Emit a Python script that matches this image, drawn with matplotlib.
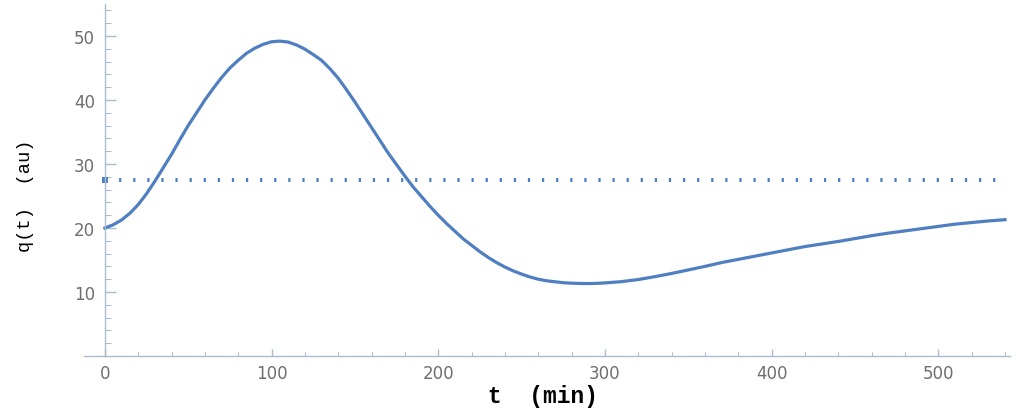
import matplotlib
matplotlib.use("Agg")
import matplotlib.pyplot as plt
from matplotlib.ticker import MultipleLocator

# q(t)
t_min = [0, 5, 10, 15, 20, 25, 30, 35, 40, 45, 50, 55, 60, 65, 70, 75, 80,
         85, 90, 95, 100, 105, 110, 115, 120, 125, 130, 135, 140, 145, 150,
         155, 160, 165, 170, 175, 180, 185, 190, 195, 200, 205, 210, 215,
         220, 225, 230, 235, 240, 245, 250, 255, 260, 265, 270, 275, 280,
         285, 290, 295, 300, 310, 320, 330, 340, 350, 360, 370, 380, 390,
         400, 410, 420, 430, 440, 450, 460, 470, 480, 490, 500, 510, 520,
         530, 540]
q_au = [20.0, 20.5, 21.25, 22.3, 23.65, 25.35, 27.3, 29.4, 31.5, 33.8, 36.0,
        38.0, 40.0, 41.8, 43.5, 45.0, 46.2, 47.3, 48.1, 48.7, 49.1, 49.2,
        49.05, 48.6, 47.95, 47.1, 46.2, 44.9, 43.4, 41.6, 39.7, 37.7, 35.7,
        33.7, 31.7, 29.9, 28.1, 26.4, 24.9, 23.4, 22.0, 20.7, 19.5, 18.3,
        17.3, 16.3, 15.4, 14.6, 13.9, 13.3, 12.8, 12.35, 12.0, 11.75, 11.6,
        11.45, 11.38, 11.33, 11.32, 11.35, 11.42, 11.62, 11.95, 12.4, 12.9,
        13.45, 14.0, 14.6, 15.1, 15.6, 16.1, 16.6, 17.1, 17.5, 17.9, 18.35,
        18.8, 19.2, 19.55, 19.9, 20.25, 20.6, 20.85, 21.1, 21.3]

q_level = 27.5
level_t = [0, 538]

x_ticks = [0, 100, 200, 300, 400, 500]
y_ticks = [10, 20, 30, 40, 50]

blue = "#4f7fc0"
axis_col = "#a9bccd"
label_col = "#6e6e6e"

fig = plt.figure(figsize=(10.23, 4.14), dpi=100)
ax = fig.add_axes([84 / 1023, 1 - 357 / 414, (1010 - 84) / 1023, (357 - 5) / 414])

ax.plot(t_min, q_au, color=blue, linewidth=2.3, solid_joinstyle="round")
ax.plot(level_t, [q_level, q_level], color=blue, linewidth=2.9,
        linestyle=(0, (0.55, 2.95)), dash_capstyle="butt")
ax.plot([0], [q_level], marker="s", markersize=4.5, color=blue,
        markeredgewidth=0)

ax.set_xlim(-12.5, 543)
ax.set_ylim(0, 55)

for side in ["top", "right"]:
    ax.spines[side].set_visible(False)
ax.spines["left"].set_position(("data", 0))
for side in ["left", "bottom"]:
    ax.spines[side].set_color(axis_col)
    ax.spines[side].set_linewidth(1.0)

ax.set_xticks(x_ticks)
ax.set_yticks(y_ticks)
ax.xaxis.set_minor_locator(MultipleLocator(20))
ax.yaxis.set_minor_locator(MultipleLocator(2))
ax.tick_params(axis="both", which="both", direction="in", color=axis_col,
               labelcolor=label_col, labelsize=12)
ax.tick_params(axis="x", which="major", length=5, width=1.0, pad=6)
ax.tick_params(axis="x", which="minor", length=3, width=0.8)
ax.tick_params(axis="y", which="major", length=8, width=1.0, pad=7)
ax.tick_params(axis="y", which="minor", length=4.5, width=0.8)
for lab in ax.get_xticklabels() + ax.get_yticklabels():
    lab.set_family("DejaVu Sans")

fig.text(543 / 1023, 1 - 397 / 414, "t  (min)", ha="center", va="center",
         family="Liberation Mono", fontweight="bold", fontsize=16.5)
fig.text(25 / 1023, 1 - 196 / 414, "q(t)  (au)", ha="center", va="center",
         rotation=90, family="Liberation Mono", fontsize=13.5)

fig.savefig("out.png", dpi=100)
plt.close(fig)
